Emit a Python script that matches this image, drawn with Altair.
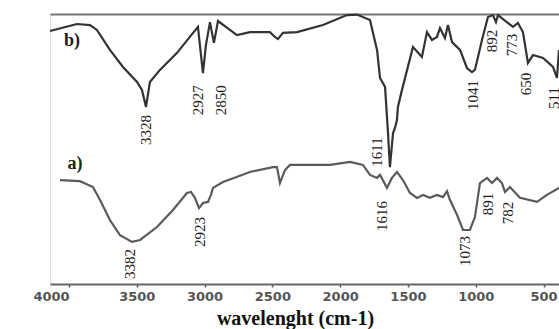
import altair as alt
import pandas as pd

# ---- curve b) (upper spectrum) ----
b_wn = [4140, 3941, 3845, 3794, 3698, 3602, 3498, 3462, 3432, 3403, 3329, 3203, 3085, 3049,
        3012, 2990, 2960, 2931, 2901, 2761, 2665, 2518, 2481, 2459, 2422, 2318, 2127, 1950,
        1876, 1780, 1728, 1706, 1669, 1647, 1633, 1610, 1596, 1581, 1574, 1544, 1463, 1397,
        1360, 1323, 1286, 1264, 1227, 1205, 1175, 1116, 1065, 1028, 1006, 954, 910, 873,
        851, 836, 725, 689, 652, 615, 578, 504, 430, 401, 386]
b_val = [93.7, 96.3, 95.9, 94.1, 86.7, 80.4, 74.8, 71.9, 65.6, 74.8, 79.3, 85.6, 93.0, 95.2,
         78.1, 88.5, 97.0, 89.3, 97.4, 92.2, 93.3, 93.3, 91.5, 90.7, 93.0, 93.3, 95.9, 99.6,
         99.8, 97.8, 86.7, 76.3, 73.0, 55.9, 43.3, 55.9, 57.8, 60.7, 65.6, 71.9, 87.8, 84.1,
         93.3, 90.4, 91.5, 94.8, 91.1, 95.9, 89.6, 86.7, 80.0, 78.5, 79.3, 90.4, 98.9, 99.6,
         97.0, 99.6, 95.2, 96.7, 93.3, 81.9, 84.8, 83.7, 80.4, 76.3, 86.7]

# ---- curve a) (lower spectrum) ----
a_wn = [4066, 3919, 3823, 3771, 3698, 3624, 3535, 3476, 3351, 3233, 3130, 3100, 3071, 3041,
        3012, 2975, 2953, 2938, 2864, 2665, 2496, 2466, 2444, 2407, 2370, 2075, 1928, 1832,
        1780, 1728, 1706, 1655, 1618, 1581, 1537, 1485, 1433, 1389, 1338, 1286, 1242, 1212,
        1190, 1138, 1094, 1043, 1006, 969, 917, 880, 843, 807, 784, 748, 674, 548, 475, 386]
a_val = [38.5, 38.1, 35.9, 31.1, 23.7, 18.1, 15.6, 16.3, 21.1, 27.4, 33.7, 34.1, 31.9, 28.1,
         30.0, 30.4, 33.0, 35.6, 37.8, 41.5, 43.3, 43.3, 37.4, 42.2, 44.1, 44.1, 45.2, 44.1,
         40.4, 39.3, 40.4, 35.6, 39.3, 41.5, 38.5, 33.7, 31.9, 33.0, 31.9, 33.0, 32.2, 34.4,
         31.1, 25.6, 20.0, 20.0, 24.8, 37.4, 39.3, 37.4, 39.3, 37.4, 34.1, 35.9, 31.9, 30.4,
         33.0, 35.6]

# ---- peak annotations ----
peak_text = ["3328", "2927", "2850", "1611", "1041", "892", "773", "650", "511",
             "3382", "2923", "1616", "1073", "891", "782"]
peak_wn = [3432, 3049, 2879, 1728, 1020, 880, 733, 630, 426,
           3550, 3034, 1692, 1079, 910, 762]
peak_val = [57.0, 68.1, 68.1, 48.9, 70.0, 90.0, 88.5, 74.1, 68.9,
            7.4, 19.3, 25.2, 12.2, 29.6, 26.3]

# ---- curve tags ----
tag_text = ["b)", "a)"]
tag_wn = [3978, 3956]
tag_val = [90.0, 44.4]

x_ticks = [4000, 3500, 3000, 2500, 2000, 1500, 1000, 500]

lines = pd.concat([
    pd.DataFrame({"wn": b_wn, "val": b_val, "s": "b"}),
    pd.DataFrame({"wn": a_wn, "val": a_val, "s": "a"}),
])
peaks = pd.DataFrame({"t": peak_text, "wn": peak_wn, "val": peak_val})
tags = pd.DataFrame({"t": tag_text, "wn": tag_wn, "val": tag_val})

xs = alt.Scale(domain=[4140, 386], nice=False, zero=False)
ys = alt.Scale(domain=[0, 100], nice=False, zero=False)

x_axis = alt.Axis(
    values=x_ticks, format="d", grid=False,
    labelFont="DejaVu Sans", labelFontWeight="bold", labelFontSize=13, labelColor="#555",
    labelPadding=3, labelOffset={"condition": {"test": "datum.value == 4000", "value": -18}, "value": 0},
    domainColor="#666", domainWidth=2, tickColor="#555", tickSize=3, tickWidth=1.5,
    title="wavelenght (cm-1)", titleFont="Liberation Serif", titleFontSize=20,
    titleFontWeight="bold", titleColor="#111", titleX=245, titleY=34,
    titleAlign="center", titleBaseline="middle",
)
y_axis = alt.Axis(
    labels=False, ticks=False, grid=False, domainColor="#333", domainWidth=3,
    title="Trancmitance (%)", titleFont="Liberation Serif", titleFontSize=17.5,
    titleFontWeight="bold", titleColor="#111", titleAngle=270, titleX=-30, titleY=116,
    titleAlign="center", titleBaseline="middle",
)

line_layer = alt.Chart(lines).mark_line(strokeWidth=2.2, interpolate="linear").encode(
    x=alt.X("wn:Q", scale=xs, axis=x_axis),
    y=alt.Y("val:Q", scale=ys, axis=y_axis),
    color=alt.Color("s:N", scale=alt.Scale(domain=["a", "b"], range=["#5a5a5a", "#333333"]), legend=None),
    detail="s:N",
)

peak_layer = alt.Chart(peaks).mark_text(
    angle=270, align="center", baseline="middle", font="Liberation Serif", fontSize=15, color="#222"
).encode(
    x=alt.X("wn:Q", scale=xs, axis=alt.Axis(orient="top", labels=False, ticks=False, grid=False,
                                             domainColor="#777", domainWidth=2, title=None)),
    y=alt.Y("val:Q", scale=ys, axis=None),
    text="t:N",
)

tag_layer = alt.Chart(tags).mark_text(
    align="center", baseline="middle", font="Liberation Serif", fontSize=18, fontWeight="bold", color="#222"
).encode(
    x=alt.X("wn:Q", scale=xs, axis=None),
    y=alt.Y("val:Q", scale=ys, axis=None),
    text="t:N",
)

chart = alt.layer(line_layer, peak_layer, tag_layer).resolve_axis(x="independent").properties(
    width=509, height=270,
    autosize=alt.AutoSizeParams(type="none"),
    padding={"left": 50, "top": 14, "right": 0, "bottom": 45},
).configure_view(stroke=None).configure(background="white")

chart.save("out.html", embed_options={"renderer": "svg", "actions": False})
